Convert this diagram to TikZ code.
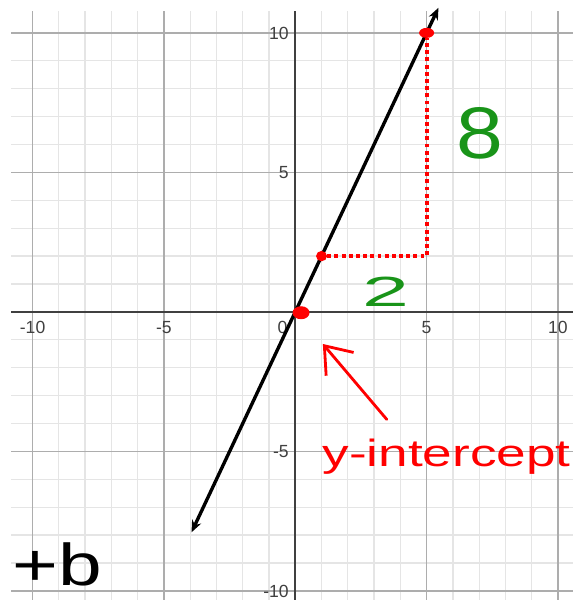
\documentclass[tikz,border=0pt]{standalone}
\usepackage{fontspec}
\setmainfont{Liberation Sans}
\usetikzlibrary{arrows.meta, calc, shapes.geometric}
\definecolor{GridLight}{rgb}{0.90, 0.90, 0.90}
\definecolor{GridDark}{rgb}{0.68, 0.68, 0.68}
\definecolor{AxisGray}{rgb}{0.25, 0.25, 0.25}
\definecolor{InkRed}{rgb}{1.0, 0.0, 0.0}
\definecolor{InkGreen}{rgb}{0.1, 0.58, 0.1}

\begin{document}
\begin{tikzpicture}[
    x=0.6567cm, y=0.6975cm,
    minor/.style={draw=GridLight, line width=0.9pt},
    major/.style={draw=GridDark, line width=1.1pt},
    axis/.style={draw=AxisGray, line width=1.4pt},
    tick/.style={text=AxisGray, font=\fontsize{12.5}{14}\selectfont, inner sep=0pt},
    graph/.style={{Stealth[length=8.5pt, width=7pt]}-{Stealth[length=8.5pt, width=7pt]},
        line width=2.4pt, black},
    rise/.style={InkRed, line width=2.8pt, dash pattern=on 2.8pt off 2.3pt},
    reddot/.style={ellipse, fill=InkRed, inner sep=0pt},
    hand/.style={inner sep=0pt},
    pointer/.style={-{Straight Barb[length=6mm, width=9mm]}, InkRed,
        line width=2pt, line cap=round},
]
\useasboundingbox[fill=white] (-11.241,-10.326) rectangle (10.80,11.179);

% ============ grid ============
\foreach \k in {-10,...,10} {
    \draw[minor] (\k,-10.33) -- (\k,10.78);
    \draw[minor] (-10.82,\k) -- (10.57,\k);
}
\foreach \k in {-10,-5,5,10} {
    \draw[major] (\k,-10.33) -- (\k,10.78);
    \draw[major] (-10.82,\k) -- (10.57,\k);
}
\draw[axis] (-10.82,0) -- (10.57,0);
\draw[axis] (0,-10.33) -- (0,10.78);

% ============ tick labels ============
\foreach \k in {-10,-5,5,10} {
    \node[tick, anchor=base] (xtick\k) at (\k,-0.76) {\k};
    \node[tick, anchor=base east] (ytick\k) at (-0.24,\k-0.23) {\k};
}
\node[tick, anchor=base] (xtick0) at (-0.49,-0.76) {0};

% ============ line y = 2x ============
\coordinate (lo) at (-3.95,-7.9);
\coordinate (hi) at (5.45,10.9);
\draw[graph] (lo) -- (hi);

% rise / run
\node[reddot, minimum width=0.275cm, minimum height=0.26cm] (p1) at (1,2) {};
\node[reddot, minimum width=0.375cm, minimum height=0.25cm] (p2) at (5,10) {};
\draw[rise] (p1) -- (p1 -| p2) -- (p2);
\node[reddot, minimum width=0.425cm, minimum height=0.325cm] (p0) at (0.22,-0.03) {};

% ============ handwriting ============
\node[hand, text=InkGreen, font=\fontsize{30}{30}\selectfont, xscale=2] (run) at (3.45,0.71) {2};
\node[hand, text=InkGreen, font=\fontsize{52}{52}\selectfont, xscale=1.15] (risenum) at (7.03,6.41) {8};
\node[hand, text=InkRed, font=\fontsize{27}{27}\selectfont, xscale=1.4, anchor=base west]
    (intlbl) at (1.02,-5.55) {y-intercept};
\coordinate (yint) at (1.05,-1.15);
\draw[pointer] ($(intlbl.north west)!0.26!(intlbl.north east)+(0,0.7)$) -- (yint);
\node[hand, font=\fontsize{42}{42}\selectfont, xscale=1.33, anchor=base west]
    (plusb) at (-10.78,-9.8) {+b};

\end{tikzpicture}
\end{document}
